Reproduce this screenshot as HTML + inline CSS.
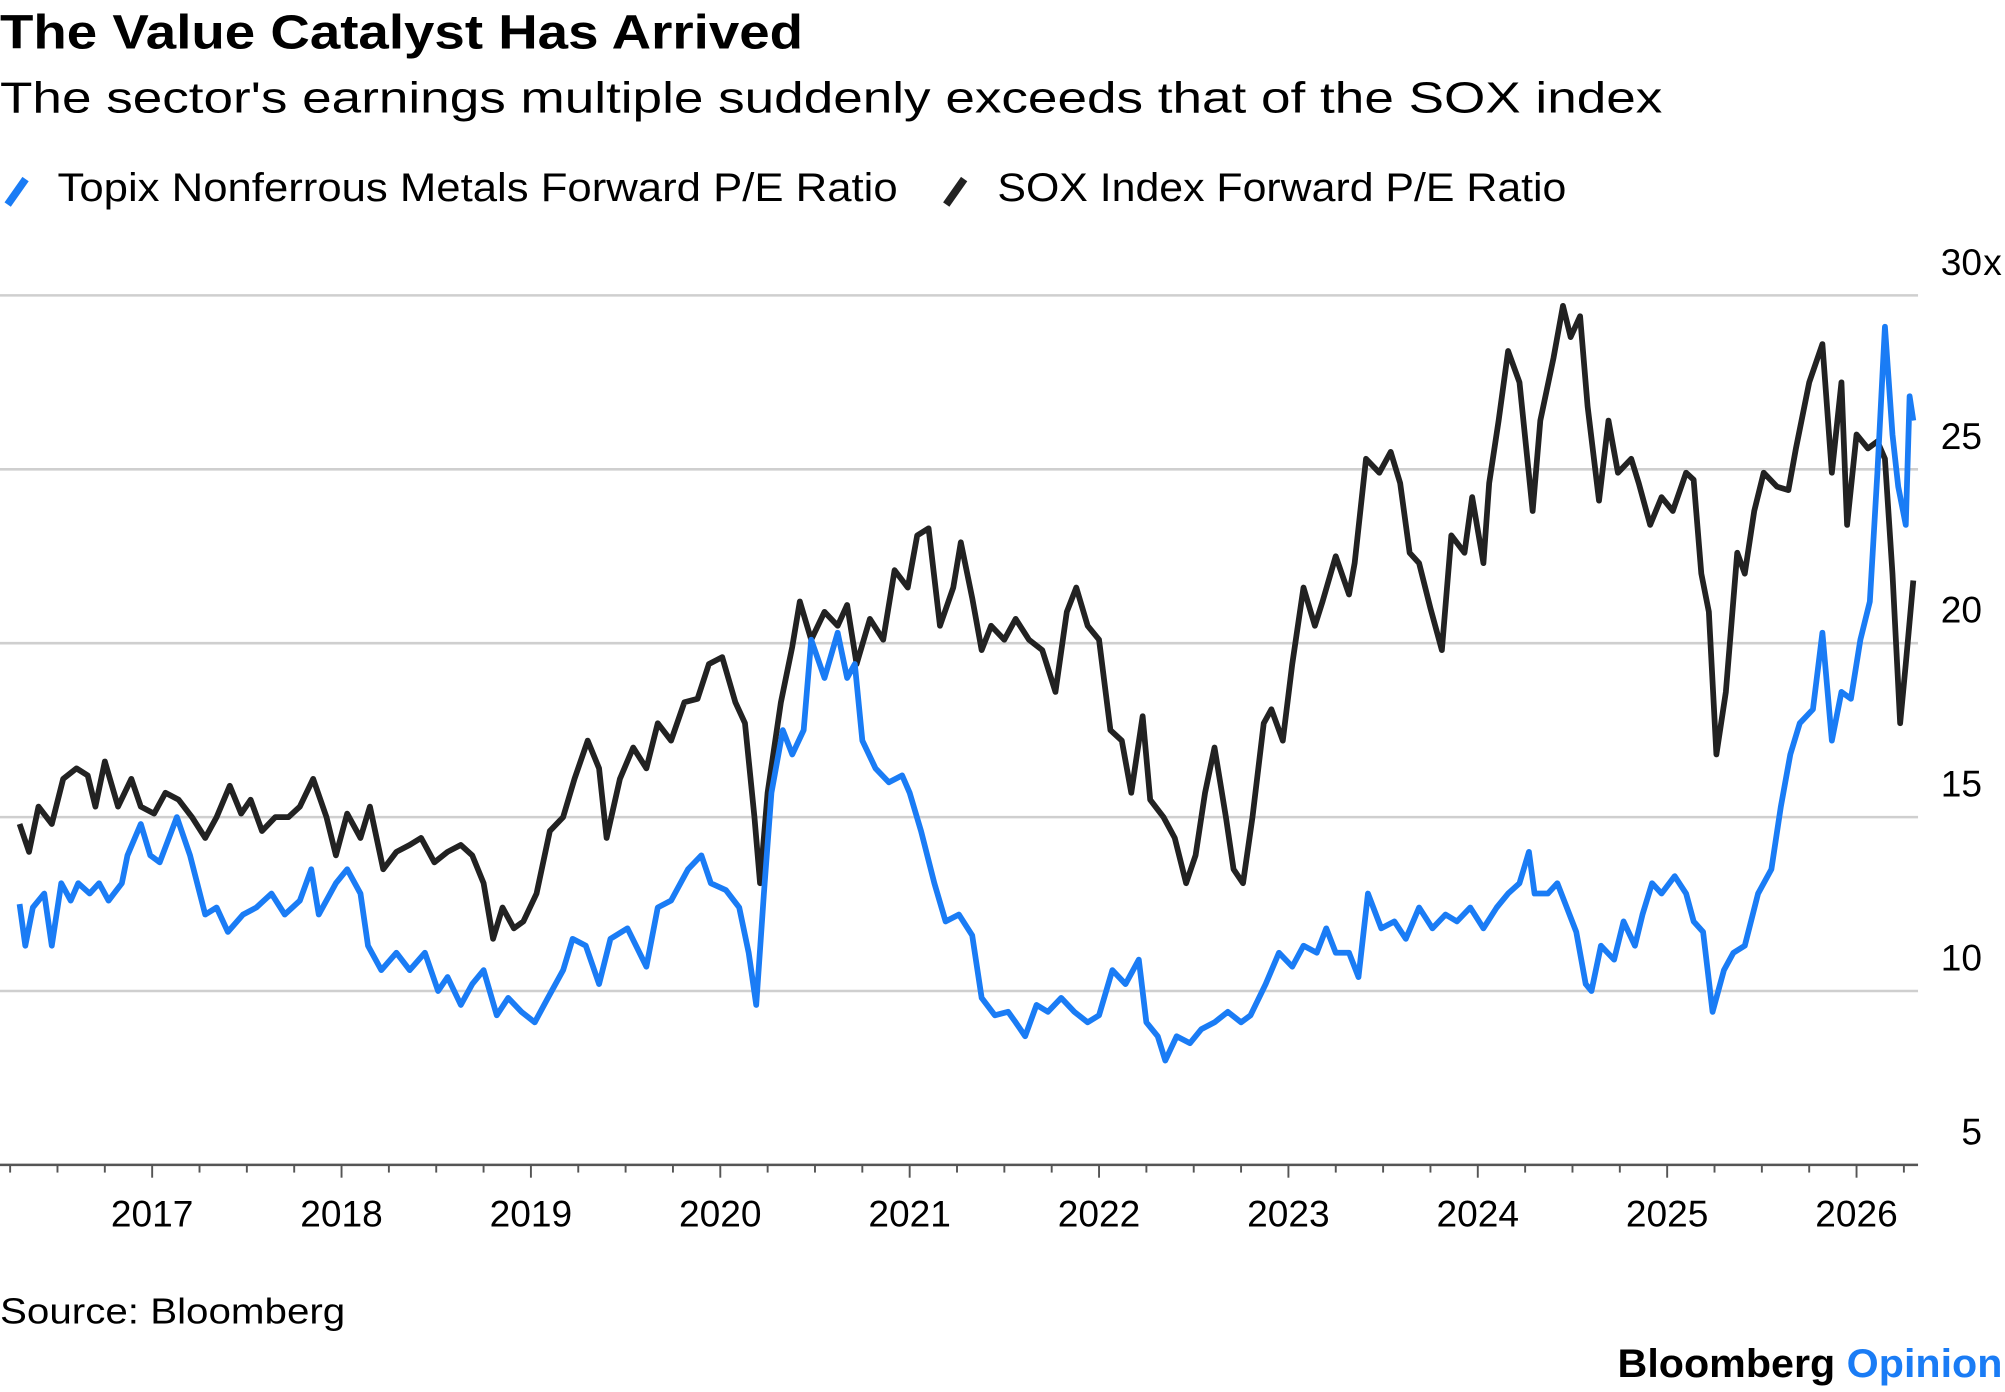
<!DOCTYPE html>
<html><head><meta charset="utf-8"><title>The Value Catalyst Has Arrived</title>
<style>html,body{margin:0;padding:0;background:#fff;}svg{display:block;font-family:"Liberation Sans",sans-serif;}</style>
</head><body>
<svg id="chart" width="2005" height="1392" viewBox="0 0 1568 1088.6" xmlns="http://www.w3.org/2000/svg">
<text x="0" y="38" font-size="38" font-weight="bold" fill="#000" textLength="628" lengthAdjust="spacingAndGlyphs">The Value Catalyst Has Arrived</text>
<text x="0" y="88" font-size="34" fill="#000" textLength="1300" lengthAdjust="spacingAndGlyphs">The sector's earnings multiple suddenly exceeds that of the SOX index</text>
<g>
<line x1="6" y1="160" x2="20" y2="140" stroke="#1a7cf5" stroke-width="6"/>
<text x="45" y="157" font-size="31" fill="#000" textLength="657" lengthAdjust="spacingAndGlyphs">Topix Nonferrous Metals Forward P/E Ratio</text>
<line x1="740" y1="160" x2="754" y2="140" stroke="#222" stroke-width="6"/>
<text x="780" y="157" font-size="31" fill="#000" textLength="445" lengthAdjust="spacingAndGlyphs">SOX Index Forward P/E Ratio</text>
</g>
<g id="grid"></g>
<g id="xaxis"></g>
<g id="series"></g>
<text x="0" y="1035" font-size="28" fill="#000" textLength="270" lengthAdjust="spacingAndGlyphs">Source: Bloomberg</text>
<text x="1265" y="1077" font-size="31" font-weight="bold" fill="#000" textLength="301" lengthAdjust="spacingAndGlyphs">Bloomberg <tspan fill="#1a7cf5">Opinion</tspan></text>
</svg>
<script>
const yTicks=[5,10,15,20,25,30];
const xYears=[2017,2018,2019,2020,2021,2022,2023,2024,2025,2026];
const topixDates=[2016.30,2016.33,2016.37,2016.43,2016.47,2016.52,2016.57,2016.61,2016.67,2016.72,2016.77,2016.84,2016.87,2016.94,2016.99,2017.04,2017.13,2017.20,2017.28,2017.34,2017.40,2017.48,2017.55,2017.63,2017.70,2017.78,2017.84,2017.88,2017.97,2018.03,2018.10,2018.14,2018.21,2018.29,2018.36,2018.44,2018.51,2018.56,2018.63,2018.69,2018.75,2018.82,2018.88,2018.95,2019.02,2019.09,2019.17,2019.22,2019.29,2019.36,2019.42,2019.51,2019.61,2019.67,2019.74,2019.83,2019.90,2019.95,2020.03,2020.10,2020.15,2020.19,2020.23,2020.27,2020.33,2020.38,2020.44,2020.48,2020.55,2020.62,2020.67,2020.71,2020.75,2020.82,2020.89,2020.96,2021.00,2021.06,2021.13,2021.19,2021.26,2021.33,2021.38,2021.45,2021.52,2021.56,2021.61,2021.67,2021.73,2021.80,2021.87,2021.94,2022.00,2022.07,2022.14,2022.21,2022.25,2022.31,2022.35,2022.41,2022.48,2022.54,2022.61,2022.68,2022.75,2022.80,2022.88,2022.95,2023.02,2023.08,2023.15,2023.20,2023.25,2023.32,2023.37,2023.42,2023.49,2023.56,2023.62,2023.69,2023.76,2023.83,2023.89,2023.96,2024.03,2024.10,2024.16,2024.22,2024.27,2024.30,2024.37,2024.42,2024.47,2024.52,2024.57,2024.60,2024.65,2024.72,2024.77,2024.83,2024.87,2024.92,2024.97,2025.04,2025.10,2025.14,2025.19,2025.24,2025.30,2025.35,2025.41,2025.48,2025.55,2025.60,2025.65,2025.70,2025.77,2025.82,2025.87,2025.92,2025.97,2026.02,2026.07,2026.11,2026.15,2026.19,2026.22,2026.26,2026.28,2026.30];
const topixValues=[12.5,11.3,12.4,12.8,11.3,13.1,12.6,13.1,12.8,13.1,12.6,13.1,13.9,14.8,13.9,13.7,15,13.9,12.2,12.4,11.7,12.2,12.4,12.8,12.2,12.6,13.5,12.2,13.1,13.5,12.8,11.3,10.6,11.1,10.6,11.1,10,10.4,9.6,10.2,10.6,9.3,9.8,9.4,9.1,9.8,10.6,11.5,11.3,10.2,11.5,11.8,10.7,12.4,12.6,13.5,13.9,13.1,12.9,12.4,11.1,9.6,12.8,15.7,17.5,16.8,17.5,20.1,19,20.3,19,19.4,17.2,16.4,16,16.2,15.7,14.6,13.1,12,12.2,11.6,9.8,9.3,9.4,9.1,8.7,9.6,9.4,9.8,9.4,9.1,9.3,10.6,10.2,10.9,9.1,8.7,8,8.7,8.5,8.9,9.1,9.4,9.1,9.3,10.2,11.1,10.7,11.3,11.1,11.8,11.1,11.1,10.4,12.8,11.8,12,11.5,12.4,11.8,12.2,12,12.4,11.8,12.4,12.8,13.1,14,12.8,12.8,13.1,12.4,11.7,10.2,10,11.3,10.9,12,11.3,12.2,13.1,12.8,13.3,12.8,12,11.7,9.4,10.6,11.1,11.3,12.8,13.5,15.3,16.8,17.7,18.1,20.3,17.2,18.6,18.4,20.1,21.2,24.9,29.1,26,24.5,23.4,27.1,26.4];
const soxDates=[2016.30,2016.35,2016.40,2016.47,2016.53,2016.60,2016.66,2016.70,2016.75,2016.82,2016.89,2016.94,2017.01,2017.07,2017.14,2017.21,2017.28,2017.34,2017.41,2017.47,2017.52,2017.58,2017.65,2017.72,2017.78,2017.85,2017.92,2017.97,2018.03,2018.10,2018.15,2018.22,2018.29,2018.36,2018.42,2018.49,2018.56,2018.63,2018.69,2018.75,2018.80,2018.85,2018.91,2018.96,2019.03,2019.10,2019.17,2019.23,2019.30,2019.36,2019.40,2019.47,2019.54,2019.61,2019.67,2019.74,2019.81,2019.88,2019.94,2020.01,2020.08,2020.13,2020.18,2020.21,2020.25,2020.32,2020.38,2020.42,2020.48,2020.55,2020.62,2020.67,2020.72,2020.79,2020.86,2020.92,2020.99,2021.04,2021.10,2021.16,2021.23,2021.27,2021.33,2021.38,2021.43,2021.50,2021.56,2021.63,2021.70,2021.77,2021.83,2021.88,2021.94,2022.00,2022.06,2022.12,2022.17,2022.23,2022.27,2022.34,2022.40,2022.46,2022.51,2022.56,2022.61,2022.67,2022.71,2022.76,2022.81,2022.87,2022.91,2022.97,2023.02,2023.08,2023.14,2023.18,2023.25,2023.32,2023.35,2023.41,2023.48,2023.54,2023.59,2023.64,2023.69,2023.75,2023.81,2023.86,2023.93,2023.97,2024.03,2024.06,2024.11,2024.16,2024.22,2024.29,2024.33,2024.40,2024.45,2024.49,2024.54,2024.58,2024.64,2024.69,2024.74,2024.81,2024.85,2024.91,2024.97,2025.03,2025.10,2025.14,2025.18,2025.22,2025.26,2025.31,2025.37,2025.41,2025.46,2025.51,2025.58,2025.64,2025.68,2025.75,2025.82,2025.87,2025.92,2025.95,2026.00,2026.06,2026.11,2026.15,2026.19,2026.23,2026.26,2026.30];
const soxValues=[14.8,14,15.3,14.8,16.1,16.4,16.2,15.3,16.6,15.3,16.1,15.3,15.1,15.7,15.5,15,14.4,15,15.9,15.1,15.5,14.6,15,15,15.3,16.1,15,13.9,15.1,14.4,15.3,13.5,14,14.2,14.4,13.7,14,14.2,13.9,13.1,11.5,12.4,11.8,12,12.8,14.6,15,16.1,17.2,16.4,14.4,16.1,17,16.4,17.7,17.2,18.3,18.4,19.4,19.6,18.3,17.7,15,13.1,15.7,18.3,19.9,21.2,20.1,20.9,20.5,21.1,19.4,20.7,20.1,22.1,21.6,23.1,23.3,20.5,21.6,22.9,21.3,19.8,20.5,20.1,20.7,20.1,19.8,18.6,20.9,21.6,20.5,20.1,17.5,17.2,15.7,17.9,15.5,15,14.4,13.1,13.9,15.7,17,15,13.5,13.1,15,17.7,18.1,17.2,19.4,21.6,20.5,21.2,22.5,21.4,22.3,25.3,24.9,25.5,24.6,22.6,22.3,21,19.8,23.1,22.6,24.2,22.3,24.6,26.4,28.4,27.5,23.8,26.4,28.2,29.7,28.8,29.4,26.8,24.1,26.4,24.9,25.3,24.6,23.4,24.2,23.8,24.9,24.7,22,20.9,16.8,18.6,22.6,22,23.8,24.9,24.5,24.4,25.6,27.5,28.6,24.9,27.5,23.4,26,25.6,25.8,25.3,22,17.7,19.4,21.8];

const NS="http://www.w3.org/2000/svg";
function xScale(t){return 119+(t-2017)*148.1;}
function yScale(v){return 911-(v-5)*27.2;}
const grid=document.getElementById('grid');
yTicks.forEach(function(v){
  if(v>5){
    const l=document.createElementNS(NS,'line');
    
    
    l.setAttribute('x1',0);l.setAttribute('x2',1500);
    l.setAttribute('y1',yScale(v));l.setAttribute('y2',yScale(v));
    l.setAttribute('stroke','#cfcfcf');l.setAttribute('stroke-width','2');
    grid.appendChild(l);
  }
  const t=document.createElementNS(NS,'text');
  
  
  t.setAttribute('x',1550);t.setAttribute('y',yScale(v)-16);
  t.setAttribute('text-anchor','end');t.setAttribute('font-size','29');t.setAttribute('fill','#000');
  t.textContent=String(v);
  grid.appendChild(t);
  if(v===30){
    const s=document.createElementNS(NS,'text');
    
    
    s.setAttribute('x',1551);s.setAttribute('y',yScale(v)-16);
    s.setAttribute('font-size','29');s.setAttribute('fill','#000');
    s.textContent='x';
    grid.appendChild(s);
  }
});
const xa=document.getElementById('xaxis');
const axl=document.createElementNS(NS,'line');


axl.setAttribute('x1',0);axl.setAttribute('x2',1500);axl.setAttribute('y1',911);axl.setAttribute('y2',911);
axl.setAttribute('stroke','#555');axl.setAttribute('stroke-width','2');
xa.appendChild(axl);
for(let q=2016.25;q<=2026.3;q+=0.25){
  const isYear=Math.abs(q-Math.round(q))<0.01;
  const tk=document.createElementNS(NS,'line');
  
  
  tk.setAttribute('x1',xScale(q));tk.setAttribute('x2',xScale(q));
  tk.setAttribute('y1',911);tk.setAttribute('y2',isYear?921:917);
  tk.setAttribute('stroke','#555');tk.setAttribute('stroke-width','1.5');
  xa.appendChild(tk);
}
xYears.forEach(function(y){
  const t=document.createElementNS(NS,'text');
  
  
  t.setAttribute('x',xScale(y));t.setAttribute('y',959);
  t.setAttribute('text-anchor','middle');t.setAttribute('font-size','29');t.setAttribute('fill','#000');
  t.textContent=String(y);
  xa.appendChild(t);
});
function drawLine(dates,vals,color,name){
  let d='';
  for(let i=0;i<dates.length;i++){d+=(i?'L':'M')+xScale(dates[i]).toFixed(1)+','+yScale(vals[i]).toFixed(1);}
  const p=document.createElementNS(NS,'path');
  
  
  p.setAttribute('d',d);p.setAttribute('fill','none');p.setAttribute('stroke',color);
  p.setAttribute('stroke-width','4.5');p.setAttribute('stroke-linejoin','round');
  document.getElementById('series').appendChild(p);
}
drawLine(soxDates,soxValues,'#222222','sox-line');
drawLine(topixDates,topixValues,'#1a7cf5','topix-line');
</script>
</body></html>
